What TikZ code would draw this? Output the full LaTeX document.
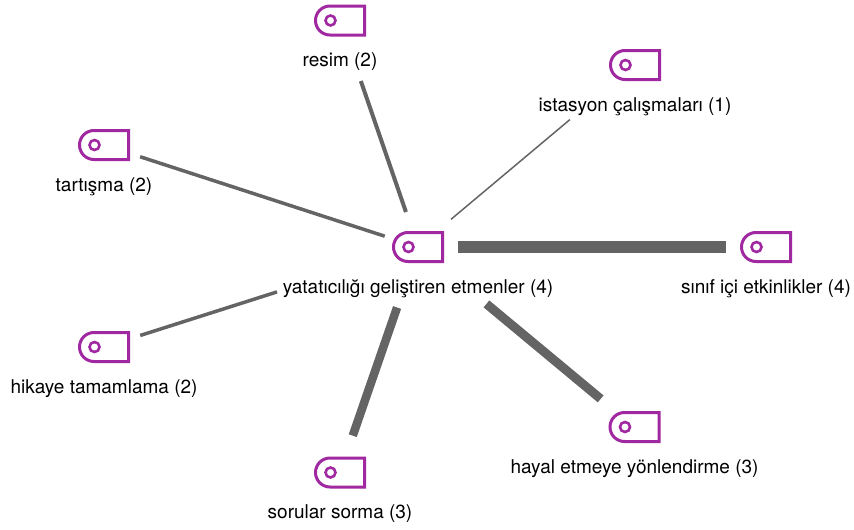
\documentclass[tikz,border=0pt]{standalone}
\usepackage{fontspec}
\setmainfont{TeX Gyre Heros}
\usetikzlibrary{positioning}
\usetikzlibrary{shapes.misc}
\definecolor{tagpurple}{RGB}{160,40,160}
\definecolor{linkgray}{RGB}{100,100,100}
\tikzset{
  tagicon/.style={rounded rectangle,rounded rectangle right arc=none,draw=tagpurple,line width=3pt,
    minimum width=49pt,minimum height=29pt,inner sep=0pt,outer sep=0pt,
    path picture={\draw[tagpurple,line width=2.6pt] ([xshift=15pt]path picture bounding box.west) circle (5pt);}},
  taglabel/.style={font=\fontsize{19}{21}\selectfont,text height=14pt,text depth=4pt,inner sep=0pt},
  link/.style={draw=linkgray,line cap=butt},
}
\begin{document}
\begin{tikzpicture}[x=1pt,y=-1pt]
       \useasboundingbox (0,0) rectangle (854,530);
       \node[tagicon] (hub) at (418,247) {};
       \node[tagicon] (resim) at (340,20.5) {};
       \node[tagicon] (istasyon) at (635,65) {};
       \node[tagicon] (tartisma) at (104,145) {};
       \node[tagicon] (sinif) at (766,247) {};
       \node[tagicon] (hikaye) at (104,347) {};
       \node[tagicon] (sorular) at (340,472.5) {};
       \node[tagicon] (hayal) at (634.5,427) {};
       \node[taglabel,below=17.5pt of hub] (hublabel) {yatatıcılığı geliştiren etmenler (4)};
       \node[taglabel,below=17.5pt of resim] (resimlabel) {resim (2)};
       \node[taglabel,below=17.5pt of istasyon] (istasyonlabel) {istasyon çalışmaları (1)};
       \node[taglabel,below=17.5pt of tartisma] (tartismalabel) {tartışma (2)};
       \node[taglabel,below=17.5pt of sinif] (siniflabel) {sınıf içi etkinlikler (4)};
       \node[taglabel,below=17.5pt of hikaye] (hikayelabel) {hikaye tamamlama (2)};
       \node[taglabel,below=17.5pt of sorular] (sorularlabel) {sorular sorma (3)};
       \node[taglabel,below=17.5pt of hayal] (hayallabel) {hayal etmeye yönlendirme (3)};
       \draw[link,line width=4pt,shorten <=37pt,shorten >=64pt] (hub.center) -- (resim.center);
       \draw[link,line width=1.5pt,shorten <=43pt,shorten >=85pt] (hub.center) -- (istasyon.center);
       \draw[link,line width=3.5pt,shorten <=35pt,shorten >=38pt] (hub.center) -- (tartisma.center);
       \draw[link,line width=12pt,shorten <=40pt,shorten >=40pt] (hub.center) -- (sinif.center);
       \draw[link,line width=3.5pt,shorten <=148pt,shorten >=38pt] (hub.center) -- (hikaye.center);
       \draw[link,line width=8.5pt,shorten <=64pt,shorten >=39pt] (hub.center) -- (sorular.center);
       \draw[link,line width=9pt,shorten <=89pt,shorten >=44pt] (hub.center) -- (hayal.center);
\end{tikzpicture}
\end{document}
